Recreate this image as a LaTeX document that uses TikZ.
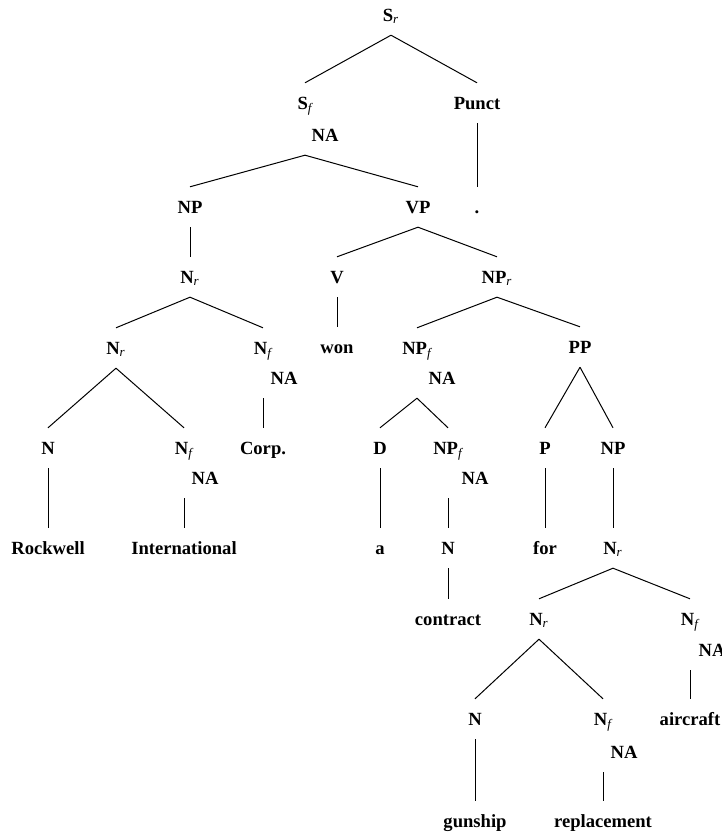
\documentclass[tikz,border=0pt]{standalone}
\usepackage{fontspec}
\setmainfont{Liberation Serif}
\newcommand{\idxr}{\textsubscript{\normalfont\itshape r}}
\newcommand{\idxf}{\textsubscript{\normalfont\itshape f}}

\begin{document}
\begin{tikzpicture}[x=0.5pt,y=-0.5pt,line width=0.5pt,
  lab/.style={inner xsep=1pt,inner ysep=6.8pt,text height=6.1pt,text depth=0pt,font=\fontsize{9.3}{11}\selectfont\bfseries}]
\useasboundingbox (0,0) rectangle (721,833);
\node [lab] (sr) at (391,15) {S\idxr};
\node [lab] (sf) at (305,103) {S\idxf};
\node [lab] (sfna) at (325,135) {NA};
\node [lab] (punct) at (477,103) {Punct};
\node [lab] (np1) at (190,207) {NP};
\node [lab] (vp) at (418,207) {VP};
\node [lab] (dot) at (477,207) {.};
\node [lab] (nr1) at (190,277) {N\idxr};
\node [lab] (v) at (337,277) {V};
\node [lab] (npr) at (497,277) {NP\idxr};
\node [lab] (nr2) at (116,348) {N\idxr};
\node [lab] (nf1) at (263,348) {N\idxf};
\node [lab] (nf1na) at (284,378) {NA};
\node [lab] (won) at (337,347) {won};
\node [lab] (npf1) at (417,348) {NP\idxf};
\node [lab] (npf1na) at (442,378) {NA};
\node [lab] (pp) at (580,347) {PP};
\node [lab] (n1) at (48,448) {N};
\node [lab] (nf2) at (184,448) {N\idxf};
\node [lab] (nf2na) at (205,478) {NA};
\node [lab] (corp) at (263,448) {Corp.};
\node [lab] (d) at (380,448) {D};
\node [lab] (npf2) at (448,448) {NP\idxf};
\node [lab] (npf2na) at (475,478) {NA};
\node [lab] (p) at (545,448) {P};
\node [lab] (np2) at (613,448) {NP};
\node [lab] (rockwell) at (48,548) {Rockwell};
\node [lab] (intl) at (184,548) {International};
\node [lab] (a) at (380,548) {a};
\node [lab] (n2) at (448,548) {N};
\node [lab] (for) at (545,548) {for};
\node [lab] (nr3) at (613,548) {N\idxr};
\node [lab] (contract) at (448,619) {contract};
\node [lab] (nr4) at (539,619) {N\idxr};
\node [lab] (nf3) at (690,619) {N\idxf};
\node [lab] (nf3na) at (712,650) {NA};
\node [lab] (n3) at (475,719) {N};
\node [lab] (nf4) at (603,719) {N\idxf};
\node [lab] (nf4na) at (624,752) {NA};
\node [lab] (aircraft) at (690,719) {aircraft};
\node [lab] (gunship) at (475,821) {gunship};
\node [lab] (replacement) at (603,821) {replacement};

\draw (sr.south) -- (sf.north);
\draw (sr.south) -- (punct.north);
\draw (sf |- sfna.south) -- (np1.north);
\draw (sf |- sfna.south) -- (vp.north);
\draw (punct.south) -- (dot.north);
\draw (np1.south) -- (nr1.north);
\draw (vp.south) -- (v.north);
\draw (vp.south) -- (npr.north);
\draw (nr1.south) -- (nr2.north);
\draw (nr1.south) -- (nf1.north);
\draw (v.south) -- (won.north);
\draw (npr.south) -- (npf1.north);
\draw (npr.south) -- (pp.north);
\draw (nr2.south) -- (n1.north);
\draw (nr2.south) -- (nf2.north);
\draw (nf1 |- nf1na.south) -- (corp.north);
\draw (npf1 |- npf1na.south) -- (d.north);
\draw (npf1 |- npf1na.south) -- (npf2.north);
\draw (pp.south) -- (p.north);
\draw (pp.south) -- (np2.north);
\draw (n1.south) -- (rockwell.north);
\draw (nf2 |- nf2na.south) -- (intl.north);
\draw (d.south) -- (a.north);
\draw (npf2 |- npf2na.south) -- (n2.north);
\draw (p.south) -- (for.north);
\draw (np2.south) -- (nr3.north);
\draw (n2.south) -- (contract.north);
\draw (nr3.south) -- (nr4.north);
\draw (nr3.south) -- (nf3.north);
\draw (nr4.south) -- (n3.north);
\draw (nr4.south) -- (nf4.north);
\draw (nf3 |- nf3na.south) -- (aircraft.north);
\draw (n3.south) -- (gunship.north);
\draw (nf4 |- nf4na.south) -- (replacement.north);
\end{tikzpicture}
\end{document}
